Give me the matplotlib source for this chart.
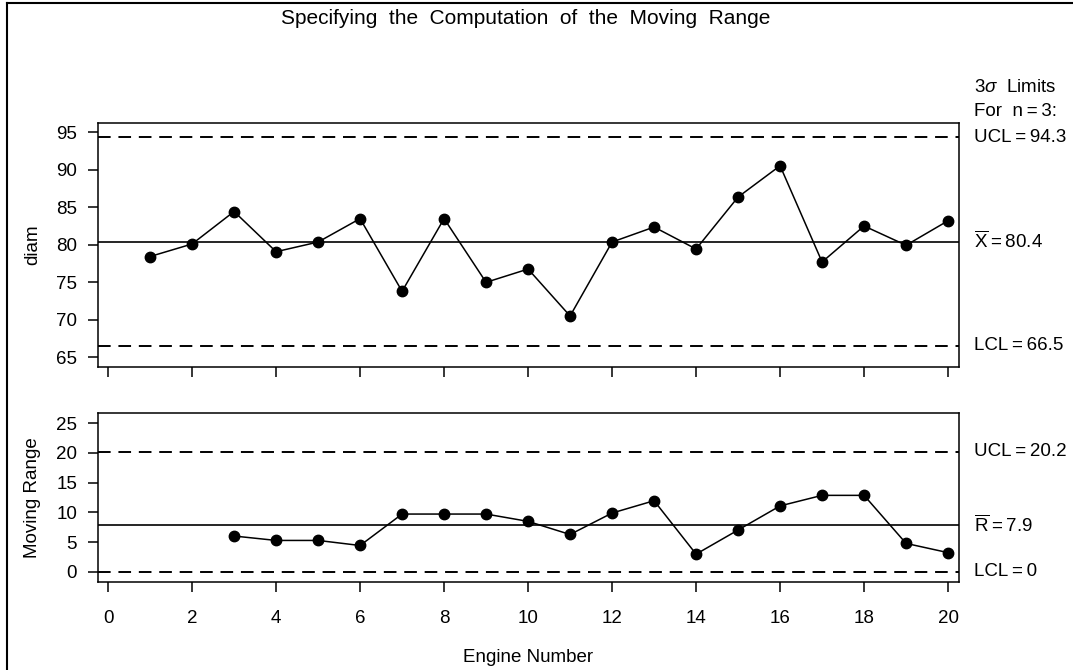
import matplotlib
matplotlib.use("Agg")
import matplotlib.pyplot as plt
import matplotlib.transforms as mtransforms
from matplotlib.lines import Line2D

plt.rcParams['font.family'] = ['Liberation Sans', 'DejaVu Sans']
plt.rcParams['mathtext.fontset'] = 'custom'
plt.rcParams['mathtext.rm'] = 'Liberation Sans'
plt.rcParams['mathtext.it'] = 'Liberation Sans:italic'

# engine number and measured diameter
engine = [1, 2, 3, 4, 5, 6, 7, 8, 9, 10, 11, 12, 13, 14, 15, 16, 17, 18, 19, 20]
diam = [78.4, 80.07, 84.4, 79.04, 80.33, 83.45, 73.76, 83.45, 74.96, 76.73,
        70.47, 80.33, 82.33, 79.4, 86.33, 90.5, 77.67, 82.47, 79.9, 83.17]

# moving range (span 3) starts at engine 3
mr_engine = [3, 4, 5, 6, 7, 8, 9, 10, 11, 12, 13, 14, 15, 16, 17, 18, 19, 20]
mov_range = [6.04, 5.3, 5.3, 4.45, 9.73, 9.73, 9.73, 8.5, 6.3, 9.9,
             11.97, 3.0, 7.05, 11.1, 12.87, 12.87, 4.8, 3.25]

x_ucl, x_mean, x_lcl = 94.3, 80.4, 66.5
r_ucl, r_mean, r_lcl = 20.2, 7.9, 0.0

W, H = 1073, 670
fig = plt.figure(figsize=(W / 100, H / 100), dpi=100)

fs = 13.5
dash = (6.5, 4)
th = '\u2009'  # thin space around "="

ax1 = fig.add_axes([98 / W, 1 - 367 / H, 861 / W, 244 / H])
ax2 = fig.add_axes([98 / W, 1 - 582 / H, 861 / W, 169 / H])

for ax in (ax1, ax2):
    ax.set_xlim(-0.24, 20.26)
    ax.set_xticks(range(0, 21, 2))
    ax.tick_params(direction='out', length=7, width=1.1, labelsize=fs, pad=8)
    ax.tick_params(axis='x', pad=13)
    for s in ax.spines.values():
        s.set_linewidth(1.1)

# top chart: individual measurements
ax1.set_ylim(63.67, 96.2)
ax1.set_yticks([65, 70, 75, 80, 85, 90, 95])
ax1.tick_params(axis='x', labelbottom=False)
ax1.axhline(x_ucl, color='black', lw=1.4, dashes=dash)
ax1.axhline(x_lcl, color='black', lw=1.4, dashes=dash)
ax1.axhline(x_mean, color='black', lw=1.2)
ax1.plot(engine, diam, color='black', lw=1.1, marker='o', markersize=7.5, clip_on=False)
ax1.set_ylabel('diam', fontsize=fs)
ax1.yaxis.set_label_coords(-0.066, 0.5)

# bottom chart: moving range
ax2.set_ylim(-1.68, 26.7)
ax2.set_yticks([0, 5, 10, 15, 20, 25])
ax2.axhline(r_ucl, color='black', lw=1.4, dashes=dash)
ax2.axhline(r_lcl, color='black', lw=1.4, dashes=dash)
ax2.axhline(r_mean, color='black', lw=1.2)
ax2.plot(mr_engine, mov_range, color='black', lw=1.1, marker='o', markersize=7.5, clip_on=False)
ax2.set_ylabel('Moving Range', fontsize=fs)
ax2.yaxis.set_label_coords(-0.066, 0.5)
ax2.set_xlabel('Engine Number', fontsize=fs, labelpad=16)

# limit labels on the right
lx = (974 - 98) / 861
t1 = mtransforms.blended_transform_factory(ax1.transAxes, ax1.transData)
t2 = mtransforms.blended_transform_factory(ax2.transAxes, ax2.transData)
ax1.text(lx, x_ucl, 'UCL' + th + '=' + th + '%.1f' % x_ucl, transform=t1, va='center', fontsize=fs)
ax1.text(lx, x_mean, r'$\overline{\mathrm{X}}$' + th + '=' + th + '%.1f' % x_mean, transform=t1, va='center', fontsize=fs)
ax1.text(lx, x_lcl, 'LCL' + th + '=' + th + '%.1f' % x_lcl, transform=t1, va='center', fontsize=fs)
ax2.text(lx, r_ucl, 'UCL' + th + '=' + th + '%.1f' % r_ucl, transform=t2, va='center', fontsize=fs)
ax2.text(lx, r_mean, r'$\overline{\mathrm{R}}$' + th + '=' + th + '%.1f' % r_mean, transform=t2, va='center', fontsize=fs)
ax2.text(lx, r_lcl, 'LCL' + th + '=' + th + '%g' % r_lcl, transform=t2, va='center', fontsize=fs)

fig.text(974 / W, 1 - 88 / H, r'3$\sigma$  Limits', va='center', fontsize=fs)
fig.text(974 / W, 1 - 111 / H, 'For  n' + th + '=' + th + '3:', va='center', fontsize=fs)

fig.text(526 / W, 1 - 19 / H, 'Specifying  the  Computation  of  the  Moving  Range',
         ha='center', va='center', fontsize=15)

# outer frame (left and top edges visible)
fig.add_artist(Line2D([7 / W, 7 / W], [0, 1 - 3 / H], color='black', lw=1.5, transform=fig.transFigure))
fig.add_artist(Line2D([7 / W, 1], [1 - 3 / H, 1 - 3 / H], color='black', lw=1.5, transform=fig.transFigure))

fig.savefig('out.png', dpi=100)
